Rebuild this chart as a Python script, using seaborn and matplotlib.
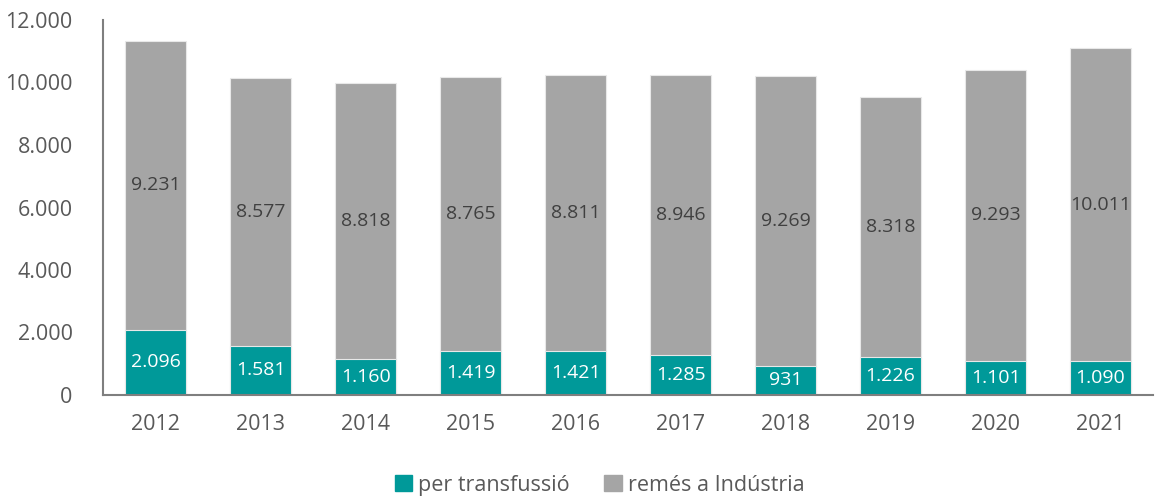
import numpy as np
import pandas as pd
import matplotlib
matplotlib.use('Agg')
import matplotlib.pyplot as plt
import seaborn as sns
from matplotlib.patches import Patch

# Data
years = ['2012', '2013', '2014', '2015', '2016', '2017', '2018', '2019', '2020', '2021']
transfusio = [2096, 1581, 1160, 1419, 1421, 1285, 931, 1226, 1101, 1090]
industria = [9231, 8577, 8818, 8765, 8811, 8946, 9269, 8318, 9293, 10011]

teal = '#009999'
grey = '#A5A5A5'
txt = '#595959'

sns.set_style('white')
plt.rcParams['font.family'] = ['Open Sans', 'DejaVu Sans']

df = pd.DataFrame({'year': years, 'transfusio': transfusio, 'industria': industria})
df['total'] = df.transfusio + df.industria

fig = plt.figure(figsize=(11.6, 5), dpi=100)
ax = fig.add_axes([0.089, 0.21, 0.905, 0.75])

sns.barplot(data=df, x='year', y='total', color=grey, saturation=1, width=0.58,
            edgecolor='#e8e8e8', linewidth=0.8, ax=ax)
sns.barplot(data=df, x='year', y='transfusio', color=teal, saturation=1, width=0.58,
            edgecolor='#e8e8e8', linewidth=0.8, ax=ax)

# segment labels
for i, (t, r) in enumerate(zip(transfusio, industria)):
    ax.text(i, t / 2, f'{t:,}'.replace(',', '.'), ha='center', va='center',
            color='white', fontsize=14)
    ax.text(i, t + r / 2, f'{r:,}'.replace(',', '.'), ha='center', va='center',
            color='#404040', fontsize=14)

ax.set_ylim(0, 12000)
ax.set_xlim(-0.5, 9.5)
ax.set_yticks(range(0, 12001, 2000))
ax.set_yticklabels([f'{v:,}'.replace(',', '.') for v in range(0, 12001, 2000)])
ax.set_xlabel('')
ax.set_ylabel('')
ax.tick_params(axis='both', colors=txt, labelsize=15.5, length=0)
ax.tick_params(axis='y', pad=22)
ax.tick_params(axis='x', pad=14)
for s in ['top', 'right']:
    ax.spines[s].set_visible(False)
for s in ['left', 'bottom']:
    ax.spines[s].set_color('#7f7f7f')
    ax.spines[s].set_linewidth(1.5)

handles = [Patch(color=teal, label='per transfussió'),
           Patch(color=grey, label='remés a Indústria')]
fig.legend(handles=handles, loc='lower center', bbox_to_anchor=(0.517, -0.03), ncol=2,
           frameon=False, fontsize=15.5, labelcolor=txt, handlelength=0.8,
           handleheight=0.8, handletextpad=0.3, columnspacing=1.6)

fig.savefig('out.png', dpi=100)
